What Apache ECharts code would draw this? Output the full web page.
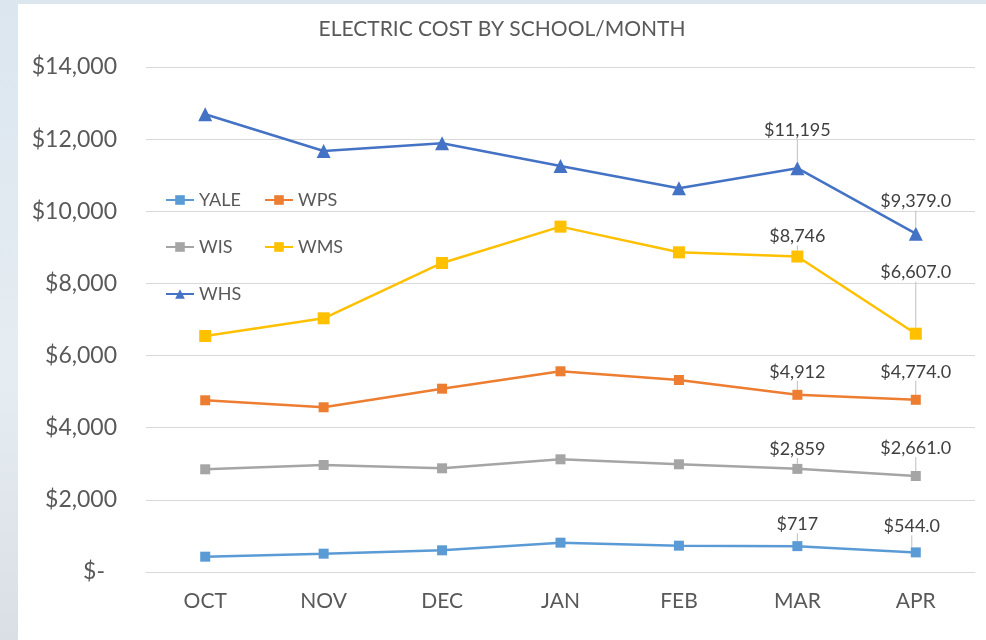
<!DOCTYPE html>
<html>
<head>
<meta charset="utf-8">
<script src="https://cdn.jsdelivr.net/npm/echarts@6/dist/echarts.min.js"></script>
<style>
html,body{margin:0;padding:0;width:986px;height:640px;overflow:hidden;background:linear-gradient(180deg,#dbe6ef 0%,#e6edf2 60%,#d9dfe4 100%);}
#chart{position:absolute;left:18px;top:4px;width:968px;height:636px;background:#fff;}
</style>
</head>
<body>
<div id="chart"></div>
<script>
const months = ['OCT','NOV','DEC','JAN','FEB','MAR','APR'];
const yTicks = [0,2000,4000,6000,8000,10000,12000,14000];
const YALE = [425, 508, 601, 813, 730, 717, 544];
const WPS  = [4760, 4566, 5082, 5564, 5323, 4912, 4774];
const WIS  = [2847, 2966, 2875, 3124, 2986, 2859, 2661];
const WMS  = [6543, 7033, 8567, 9574, 8862, 8746, 6607];
const WHS  = [12689, 11671, 11884, 11256, 10637, 11195, 9379];
const labelled = [5, 6]; // MAR, APR carry data labels

const textColor = '#595959';
const font = 'Lato';

function fmt(v, dec){
  return '$' + v.toLocaleString('en-US', {minimumFractionDigits: dec, maximumFractionDigits: dec});
}

// label nudges for MAR / APR
const nudges = {
  YALE: [[0,-3],[-4,-7]],
  WPS:  [[0,-4],[0,-9]],
  WIS:  [[0,-1],[0,-9]],
  WMS:  [[0,0],[0,-41]],
  WHS:  [[0,-17],[0,-11]]
};

function mk(name, values, color, symbol, size){
  const nd = nudges[name];
  return {
    name: name,
    type: 'line',
    data: values.map((v, i) => {
      const idx = labelled.indexOf(i);
      if (idx < 0) return v;
      return {
        value: v,
        label: {
          show: true,
          position: 'top',
          distance: 5,
          formatter: fmt(v, idx === 1 ? 1 : 0)
        }
      };
    }),
    symbol: symbol,
    symbolSize: size,
    showAllSymbol: true,
    lineStyle: {color: color, width: 2.5},
    itemStyle: {color: color},
    label: {color: '#404040', fontFamily: font, fontSize: 18},
    labelLine: {show: true, lineStyle: {color: '#bfbfbf', width: 1}},
    labelLayout: function(p){
      const idx = labelled.indexOf(p.dataIndex);
      if (idx < 0) return {};
      return {dx: nd[idx][0], dy: nd[idx][1]};
    },
    emphasis: {disabled: true},
    z: 3
  };
}

const chart = echarts.init(document.getElementById('chart'));
const legendText = {color: textColor, fontFamily: font, fontSize: 18};
chart.setOption({
  animation: false,
  backgroundColor: '#ffffff',
  title: {
    text: 'ELECTRIC COST BY SCHOOL/MONTH',
    left: 'center',
    top: 10,
    textStyle: {color: textColor, fontFamily: font, fontSize: 21, fontWeight: 'normal'}
  },
  legend: [
    {
      data: ['YALE','WIS','WHS'],
      orient: 'vertical',
      left: 147, top: 187, padding: 0,
      itemGap: 29, itemWidth: 28, itemHeight: 12,
      textStyle: legendText
    },
    {
      data: ['WPS','WMS'],
      orient: 'vertical',
      left: 246, top: 187, padding: 0,
      itemGap: 29, itemWidth: 28, itemHeight: 12,
      textStyle: legendText
    }
  ],
  grid: {left: 128, right: 11, top: 63, height: 505, containLabel: false},
  xAxis: {
    type: 'category',
    data: months,
    boundaryGap: true,
    axisLine: {show: true, lineStyle: {color: '#d9d9d9', width: 1}},
    axisTick: {show: false},
    axisLabel: {color: textColor, fontFamily: font, fontSize: 21, margin: 19}
  },
  yAxis: {
    type: 'value',
    min: yTicks[0],
    max: yTicks[yTicks.length - 1],
    interval: yTicks[1] - yTicks[0],
    axisLine: {show: false},
    axisTick: {show: false},
    splitLine: {lineStyle: {color: '#d9d9d9', width: 1}},
    axisLabel: {
      color: textColor, fontFamily: font, fontSize: 23, margin: 29,
      formatter: v => v === 0 ? '{z|$-}' : '$' + v.toLocaleString('en-US'),
      rich: {z: {color: textColor, fontFamily: font, fontSize: 23, padding: [0, 12, 0, 0]}}
    }
  },
  series: [
    mk('YALE', YALE, '#5B9BD5', 'rect', 10),
    mk('WPS',  WPS,  '#ED7D31', 'rect', 10),
    mk('WIS',  WIS,  '#A5A5A5', 'rect', 10),
    mk('WMS',  WMS,  '#FFC000', 'rect', 12),
    mk('WHS',  WHS,  '#4472C4', 'triangle', 14)
  ]
});
</script>
</body>
</html>
